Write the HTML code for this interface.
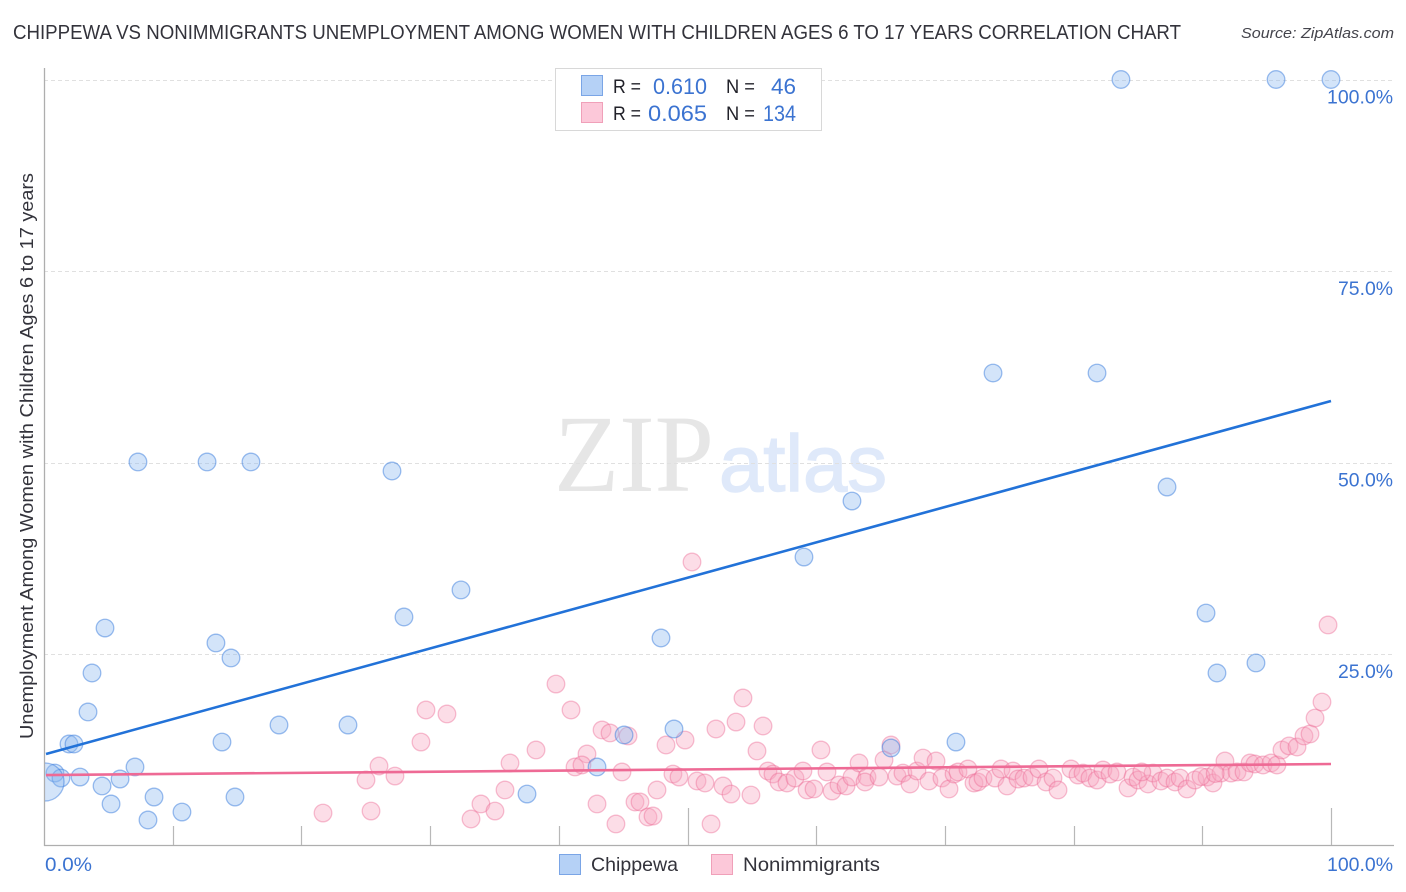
<!DOCTYPE html>
<html lang="en">
<head>
<meta charset="utf-8">
<title>Chippewa vs Nonimmigrants Unemployment Correlation Chart</title>
<style>
html,body{margin:0;padding:0;background:#fff;width:1406px;height:892px;overflow:hidden}
svg{display:block}
text{font-family:"Liberation Sans",sans-serif}
.blue{fill:#3b73d1}
.dark{fill:#22222a}
</style>
</head>
<body>
<svg id="chart" xmlns="http://www.w3.org/2000/svg" width="1406" height="892" viewBox="0 0 1406 892">
  <defs><clipPath id="plot-clip"><rect x="45" y="60" width="1361" height="786"/></clipPath></defs>
  <text x="13" y="39" font-size="20" fill="#33333b" textLength="1168" lengthAdjust="spacingAndGlyphs">CHIPPEWA VS NONIMMIGRANTS UNEMPLOYMENT AMONG WOMEN WITH CHILDREN AGES 6 TO 17 YEARS CORRELATION CHART</text>
  <text x="1241" y="38" font-size="15" font-style="italic" fill="#44444c" textLength="153" lengthAdjust="spacingAndGlyphs">Source: ZipAtlas.com</text>
  <g>
    <text x="554" y="491" font-size="110" fill="#e6e6e6" textLength="160" lengthAdjust="spacingAndGlyphs" style="font-family:'Liberation Serif',serif">ZIP</text>
    <text x="719" y="491" font-size="80" fill="#dfe9fa" stroke="#dfe9fa" stroke-width="1.4" textLength="168" lengthAdjust="spacingAndGlyphs">atlas</text>
  </g>
  <g id="grid"></g>
  <g id="axes"></g>
  <g id="tick-labels"></g>
  <g id="pink-points" clip-path="url(#plot-clip)"></g>
  <g id="blue-points" clip-path="url(#plot-clip)"></g>
  <g id="trend-lines"></g>
  <text transform="translate(33,739) rotate(-90)" font-size="18.5" fill="#33333b" textLength="566" lengthAdjust="spacingAndGlyphs">Unemployment Among Women with Children Ages 6 to 17 years</text>
  <g>
    <rect x="555.5" y="68.5" width="266" height="62" fill="#fff" stroke="#d8d8d8"/>
    <rect x="581.5" y="75.5" width="21" height="20" fill="#b5d1f6" stroke="#7aa5e6"/>
    <rect x="581.5" y="102.5" width="21" height="20" fill="#fcc8d9" stroke="#f0a0b9"/>
    <text class="dark" x="613" y="93" font-size="19" textLength="28" lengthAdjust="spacingAndGlyphs">R =</text>
    <text class="blue" x="653" y="94" font-size="22" textLength="54" lengthAdjust="spacingAndGlyphs">0.610</text>
    <text class="dark" x="726" y="93" font-size="19" textLength="29" lengthAdjust="spacingAndGlyphs">N =</text>
    <text class="blue" x="771" y="94" font-size="22" textLength="25" lengthAdjust="spacingAndGlyphs">46</text>
    <text class="dark" x="613" y="120" font-size="19" textLength="28" lengthAdjust="spacingAndGlyphs">R =</text>
    <text class="blue" x="648" y="121" font-size="22" textLength="59" lengthAdjust="spacingAndGlyphs">0.065</text>
    <text class="dark" x="726" y="120" font-size="19" textLength="29" lengthAdjust="spacingAndGlyphs">N =</text>
    <text class="blue" x="763" y="121" font-size="22" textLength="33" lengthAdjust="spacingAndGlyphs">134</text>
  </g>
  <g>
    <rect x="559.5" y="854.5" width="21" height="20" fill="#b5d1f6" stroke="#7aa5e6"/>
    <text x="591" y="871" font-size="19.5" fill="#33333b" textLength="87" lengthAdjust="spacingAndGlyphs">Chippewa</text>
    <rect x="711.5" y="854.5" width="21" height="20" fill="#fcc8d9" stroke="#f0a0b9"/>
    <text x="743" y="871" font-size="19.5" fill="#33333b" textLength="137" lengthAdjust="spacingAndGlyphs">Nonimmigrants</text>
  </g>
</svg>
<script>
const yTickValues = [25, 50, 75, 100];
const yTickLabels = ["25.0%", "50.0%", "75.0%", "100.0%"];
const xTickValues = [0, 10, 20, 30, 40, 50, 60, 70, 80, 90, 100];
const xMajorTicks = [50, 100];
const xEndLabels = ["0.0%", "100.0%"];

const chippewaX = [13.36,14.53,3.73,3.42,1.94,2.33,18.26,13.83,23.62,7.07,0.85,1.32,2.80,5.91,4.51,8.55,14.84,5.21,10.72,8.08,0.08,7.30,12.67,16.08,27.04,32.40,27.97,4.74,47.94,48.95,45.07,42.97,37.53,59.05,62.78,65.81,70.86,73.74,81.82,87.26,90.29,91.14,94.17,83.68,95.73,100];
const chippewaY = [26.44,24.48,22.52,17.43,13.25,13.25,15.73,13.51,15.73,10.25,9.46,8.81,8.94,8.68,7.77,6.33,6.33,5.42,4.37,3.33,8.29,50.07,50.07,50.07,48.89,33.36,29.83,28.39,27.09,15.21,14.43,10.25,6.72,37.66,44.97,12.73,13.51,61.68,61.68,46.80,30.35,22.52,23.83,100,100,100];
const chippewaLargePoint = 20;

const nonimmigrantsX = [39.78,40.95,54.31,29.68,31.31,43.36,43.98,45.38,29.29,38.23,42.19,48.33,49.81,52.21,53.77,26.03,25.02,27.27,36.21,41.26,41.80,44.91,48.87,49.34,50.74,51.36,52.76,53.38,47.63,35.82,33.95,35.04,33.18,25.41,42.97,45.92,46.31,46.93,47.32,44.44,51.83,21.68,50.35,99.77,55.87,55.40,60.37,54.93,56.25,56.64,57.11,57.73,58.35,58.97,59.29,59.83,60.84,61.23,61.77,62.32,62.78,63.33,63.95,63.79,64.88,65.27,65.81,66.28,66.74,67.29,67.83,68.30,69.31,68.76,69.77,70.32,70.71,71.02,71.79,72.26,72.57,72.96,73.89,74.36,74.83,75.29,75.68,76.15,76.77,77.31,77.86,78.40,78.79,79.80,80.34,80.73,81.27,81.82,82.28,82.83,83.37,84.23,84.62,85.01,85.78,86.17,86.79,87.26,87.88,88.27,88.81,89.43,90.37,90.83,91.76,91.45,92.23,92.70,93.24,93.71,94.09,94.72,95.34,95.80,96.19,96.74,97.36,97.90,98.37,98.76,99.30,85.30,89.90,91.00];
const nonimmigrantsY = [21.08,17.69,19.26,17.69,17.17,15.08,14.69,14.30,13.51,12.47,11.95,13.12,13.77,15.21,16.12,10.38,8.55,9.07,10.77,10.25,10.51,9.60,9.33,8.94,8.42,8.16,7.77,6.72,7.25,7.25,5.42,4.50,3.46,4.50,5.42,5.68,5.68,3.72,3.85,2.81,2.81,4.24,37.01,28.79,15.60,12.34,12.47,6.59,9.73,9.33,8.29,8.16,8.81,9.73,7.25,7.38,9.60,7.11,7.90,7.77,8.94,10.77,8.94,8.29,8.94,11.16,13.12,9.07,9.46,8.03,9.73,11.42,11.03,8.42,8.81,7.38,9.33,9.60,9.99,8.16,8.29,8.81,8.81,9.99,7.77,9.73,8.68,8.81,8.94,9.99,8.29,8.81,7.25,9.99,9.20,9.46,8.81,8.55,9.86,9.33,9.60,7.51,8.94,8.55,8.03,9.46,8.42,8.81,8.29,8.81,7.38,8.55,8.94,8.16,11.03,9.46,9.46,9.60,9.60,10.77,10.64,10.51,10.77,10.51,12.47,13.00,12.86,14.30,14.56,16.64,18.73,9.60,9.00,9.40];

const chippewaTrendX = [0, 100];
const chippewaTrendY = [11.95, 58.03];
const nonimmigrantsTrendX = [0, 100];
const nonimmigrantsTrendY = [9.2, 10.64];

const NS = "http://www.w3.org/2000/svg";
const xScale = v => 44 + v * 12.87;
const yScale = v => 845.5 - v * 7.66;

function make(parent, tag, attrs, text) {
  const el = document.createElementNS(NS, tag);
  for (const k in attrs) el.setAttribute(k, attrs[k]);
  if (text !== undefined) el.textContent = text;
  document.getElementById(parent).appendChild(el);
  return el;
}

yTickValues.forEach((v, i) => {
  const y = Math.round(yScale(v)) + 0.5;
  const g = make("grid", "line", {x1: 44, x2: 1394, y1: y, y2: y, stroke: "#e0e0e0", "stroke-width": 1, "stroke-dasharray": "4 3"});
  
  
  const t = make("tick-labels", "text", {x: 1393, y: yScale(v) + 24, "text-anchor": "end", "font-size": 19.5, fill: "#3b73d1", textLength: yTickLabels[i].length === 6 ? 66 : 55, lengthAdjust: "spacingAndGlyphs"}, yTickLabels[i]);
  
  
});

const yAxis = make("axes", "line", {x1: 44.5, x2: 44.5, y1: 68, y2: 846, stroke: "#aeaeae", "stroke-width": 1.3});


const xAxis = make("axes", "line", {x1: 44, x2: 1394, y1: 845.5, y2: 845.5, stroke: "#aeaeae", "stroke-width": 1.3});



xTickValues.forEach(v => {
  if (v === 0) return;
  const x = Math.round(xScale(v)) + 0.5;
  const top = xMajorTicks.includes(v) ? 808 : 826;
  const tick = make("axes", "line", {x1: x, x2: x, y1: top, y2: 845, stroke: "#b8b8b8", "stroke-width": 1.2});
  
  
});

const xLabelStart = make("tick-labels", "text", {x: 45, y: 871, "font-size": 19.5, fill: "#3b73d1", textLength: 47, lengthAdjust: "spacingAndGlyphs"}, xEndLabels[0]);


const xLabelEnd = make("tick-labels", "text", {x: 1393, y: 871, "text-anchor": "end", "font-size": 19.5, fill: "#3b73d1", textLength: 66, lengthAdjust: "spacingAndGlyphs"}, xEndLabels[1]);



nonimmigrantsX.forEach((v, i) => {
  const c = make("pink-points", "circle", {cx: xScale(v), cy: yScale(nonimmigrantsY[i]), r: 8.8, fill: "rgba(248,165,192,.38)", stroke: "rgba(235,105,148,.42)", "stroke-width": 1.3});
  
  
});

chippewaX.forEach((v, i) => {
  const c = make("blue-points", "circle", {cx: xScale(v), cy: yScale(chippewaY[i]), r: i === chippewaLargePoint ? 19 : 8.8, fill: "rgba(140,184,240,.38)", stroke: "rgba(60,125,222,.5)", "stroke-width": 1.3});
  
  
});

const blueTrend = make("trend-lines", "line", {x1: xScale(chippewaTrendX[0]) + 2, x2: xScale(chippewaTrendX[1]), y1: yScale(chippewaTrendY[0]), y2: yScale(chippewaTrendY[1]), stroke: "#2272d8", "stroke-width": 2.6});


const pinkTrend = make("trend-lines", "line", {x1: xScale(nonimmigrantsTrendX[0]) + 2, x2: xScale(nonimmigrantsTrendX[1]), y1: yScale(nonimmigrantsTrendY[0]), y2: yScale(nonimmigrantsTrendY[1]), stroke: "#ee6a95", "stroke-width": 2.6});


</script>
</body>
</html>
